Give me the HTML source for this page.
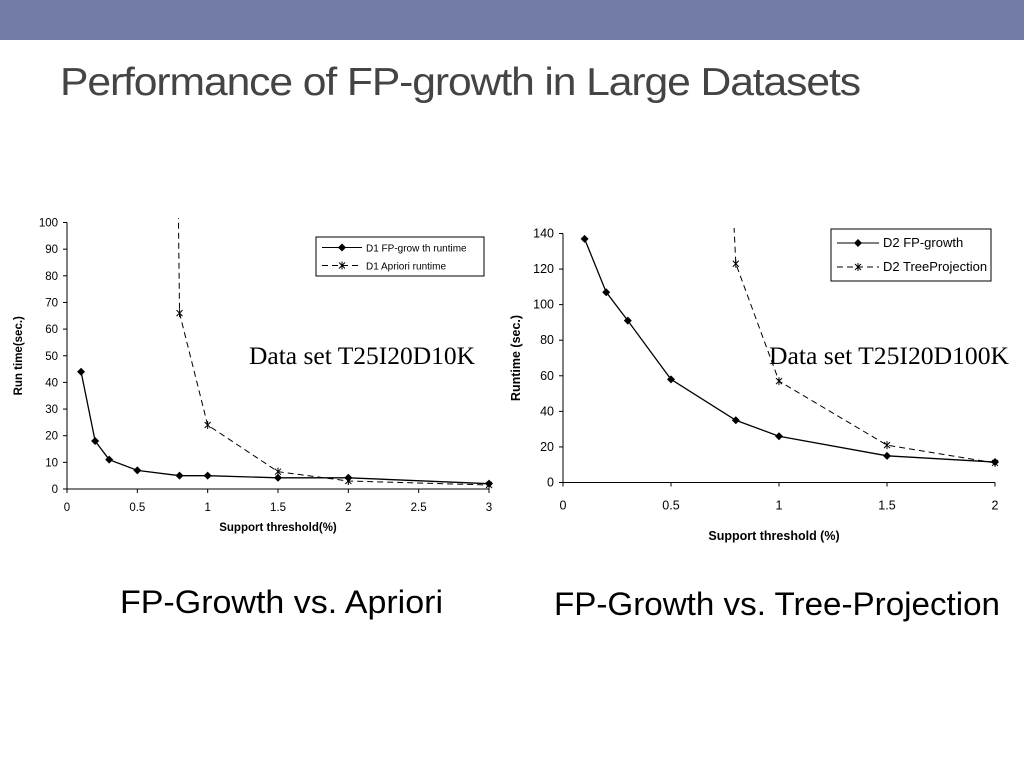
<!DOCTYPE html>
<html><head><meta charset="utf-8"><style>html,body{margin:0;padding:0;background:#fff}svg{display:block}</style></head>
<body>
<svg id="s" width="1024" height="768" viewBox="0 0 1024 768" xmlns="http://www.w3.org/2000/svg" font-family="Liberation Sans, sans-serif">
<defs>
<clipPath id="c1"><rect x="67" y="218" width="430" height="275"/></clipPath>
<clipPath id="c2"><rect x="563" y="228" width="440" height="258"/></clipPath>
</defs>
<rect x="0" y="0" width="1024" height="40" fill="#727aa6"/>
<text x="60" y="95" font-size="39" fill="#444" letter-spacing="-1" textLength="800" lengthAdjust="spacingAndGlyphs">Performance of FP-growth in Large Datasets</text>
<g id="g1"></g>
<g id="g2"></g>
<text x="120" y="613" font-size="32" fill="#000" textLength="323" lengthAdjust="spacingAndGlyphs">FP-Growth vs. Apriori</text>
<text x="777" y="615" font-size="32" text-anchor="middle" fill="#000" textLength="446" lengthAdjust="spacingAndGlyphs">FP-Growth vs. Tree-Projection</text>
</svg>
<script>
// Chart 1 data
const c1X = [0.1,0.2,0.3,0.5,0.8,1,1.5,2,3];
const c1FP = [44,18,11,7,5,5,4.2,4.2,2];
const c1AX = [0.76,0.8,1,1.5,2,3];
const c1Ap = [250,66,24,6.5,3,1.5];
const c1YTicks = [0,10,20,30,40,50,60,70,80,90,100];
const c1XTicks = ["0","0.5","1","1.5","2","2.5","3"];
// Chart 2 data
const c2X = [0.1,0.2,0.3,0.5,0.8,1,1.5,2];
const c2FP = [137,107,91,58,35,26,15,11.5];
const c2TX = [0.77,0.8,1,1.5,2];
const c2TP = [200,123,57,21,11];
const c2YTicks = [0,20,40,60,80,100,120,140];
const c2XTicks = ["0","0.5","1","1.5","2"];

const NS="http://www.w3.org/2000/svg";
function mk(p,tag,a){const e=document.createElementNS(NS,tag);for(const k in a)e.setAttribute(k,a[k]);p.appendChild(e);return e;}
function diamond(g,x,y){const e=mk(g,'path',{d:`M${x} ${y-4}L${x+4} ${y}L${x} ${y+4}L${x-4} ${y}Z`,fill:'#000'});return e;}
function star(g,x,y){const e=mk(g,'path',{d:`M${x-3} ${y-3}L${x+3} ${y+3}M${x+3} ${y-3}L${x-3} ${y+3}M${x} ${y-4}L${x} ${y+4}`,stroke:'#000','stroke-width':1});return e;}

function chart(g,o){
  const sx=v=>o.x0+(v/o.xmax)*(o.x1-o.x0), sy=v=>o.y0-(v/o.ymax)*(o.y0-o.y1);
  let e=mk(g,'line',{x1:o.x0,y1:o.y0,x2:o.x0,y2:o.y1,stroke:'#000'});
  
  e=mk(g,'line',{x1:o.x0,y1:o.y0,x2:o.x1,y2:o.y0,stroke:'#000'});
  
  o.yt.forEach(v=>{mk(g,'line',{x1:o.x0-4,y1:sy(v),x2:o.x0,y2:sy(v),stroke:'#000'});
    const t=mk(g,'text',{x:o.x0-9,y:sy(v)+4,'font-size':o.fs,'text-anchor':'end'});t.textContent=v;
    });
  o.xt.forEach(s=>{const v=parseFloat(s);mk(g,'line',{x1:sx(v),y1:o.y0,x2:sx(v),y2:o.y0+4,stroke:'#000'});
    const t=mk(g,'text',{x:sx(v),y:o.y0+o.xtOff,'font-size':o.fs,'text-anchor':'middle'});t.textContent=s;
    });
  let t=mk(g,'text',{x:(o.x0+o.x1)/2+o.xtShift,y:o.xTitleY,'font-size':o.fs,'font-weight':'bold','text-anchor':'middle'});t.textContent=o.xTitle;
  
  t=mk(g,'text',{x:0,y:0,'font-size':o.fs,'font-weight':'bold','text-anchor':'middle',transform:`translate(${o.yTitleX},${(o.y0+o.y1)/2}) rotate(-90)`});t.textContent=o.yTitle;
  
  const cg=mk(g,'g',{'clip-path':`url(#${o.clip})`});
  let p=mk(cg,'polyline',{points:o.bx.map((x,i)=>sx(x)+','+sy(o.by[i])).join(' '),fill:'none',stroke:'#000','stroke-width':1,'stroke-dasharray':'6,4'});
  
  o.bx.forEach((x,i)=>{if(o.by[i]<=o.ymax){const m=star(cg,sx(x),sy(o.by[i]));}});
  p=mk(cg,'polyline',{points:o.fx.map((x,i)=>sx(x)+','+sy(o.fy[i])).join(' '),fill:'none',stroke:'#000','stroke-width':1.3});
  
  o.fx.forEach((x,i)=>{const m=diamond(cg,sx(x),sy(o.fy[i]));});
  const L=o.leg;const lg=mk(g,'g',{});
  
  mk(lg,'rect',{x:L.x,y:L.y,width:L.w,height:L.h,fill:'#fff',stroke:'#000'});
  const r1=L.y+L.h*0.27,r2=L.y+L.h*0.73,lx=L.x+6,lx2=L.x+L.lw;
  mk(lg,'line',{x1:lx,y1:r1,x2:lx2,y2:r1,stroke:'#000'});diamond(lg,(lx+lx2)/2,r1);
  mk(lg,'line',{x1:lx,y1:r2,x2:lx2,y2:r2,stroke:'#000','stroke-dasharray':'6,4'});star(lg,(lx+lx2)/2,r2);
  t=mk(lg,'text',{x:lx2+4,y:r1+4,'font-size':L.fs});t.textContent=L.a;
  
  t=mk(lg,'text',{x:lx2+4,y:r2+4,'font-size':L.fs});t.textContent=L.b;
  
  t=mk(g,'text',{x:o.ds[0],y:o.ds[1],'font-size':25,'font-family':'Liberation Serif, serif',textLength:o.ds[3],lengthAdjust:'spacingAndGlyphs'});t.textContent=o.ds[2];
  
}
chart(document.getElementById('g1'),{x0:67,x1:489,y0:489,y1:222.5,xmax:3,ymax:100,yt:c1YTicks,xt:c1XTicks,fs:11.5,xtOff:22,xtShift:0,
  xTitle:'Support threshold(%)',xTitleY:531,yTitle:'Run time(sec.)',yTitleX:22,clip:'c1',
  fx:c1X,fy:c1FP,bx:c1AX,by:c1Ap,
  leg:{x:316,y:237,w:168,h:39,lw:46,fs:10,a:'D1 FP-grow th runtime',b:'D1 Apriori runtime'},ds:[249,364,'Data set T25I20D10K',226]});
chart(document.getElementById('g2'),{x0:563,x1:995,y0:482.5,y1:233.5,xmax:2,ymax:140,yt:c2YTicks,xt:c2XTicks,fs:12.5,xtOff:27,xtShift:-5,
  xTitle:'Support threshold (%)',xTitleY:540,yTitle:'Runtime (sec.)',yTitleX:520,clip:'c2',
  fx:c2X,fy:c2FP,bx:c2TX,by:c2TP,
  leg:{x:831,y:229,w:160,h:52,lw:48,fs:13,a:'D2 FP-growth',b:'D2 TreeProjection'},ds:[769,364,'Data set T25I20D100K',240]});
</script>
</body></html>
